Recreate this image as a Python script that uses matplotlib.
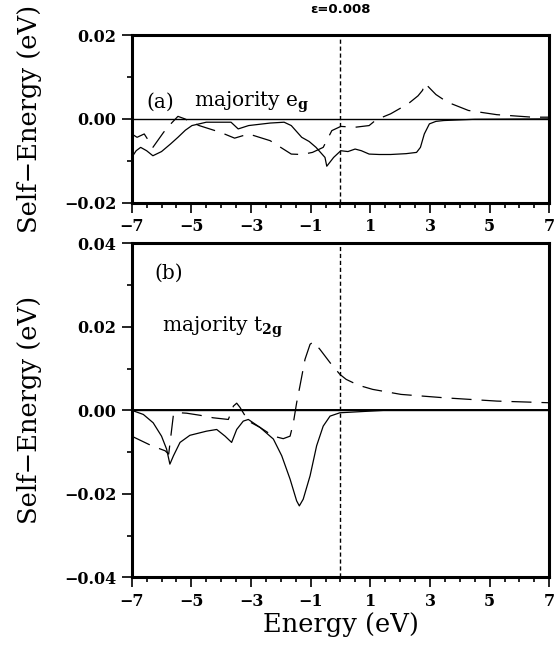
import matplotlib
matplotlib.use("Agg")
import matplotlib.pyplot as plt
from matplotlib.ticker import MultipleLocator, FixedLocator
import numpy as np

plt.rcParams['font.family'] = ['DejaVu Serif']
plt.rcParams['mathtext.fontset'] = 'dejavuserif'
plt.rcParams['axes.unicode_minus'] = True

# (a) majority e_g : solid and dashed self-energy curves
eg_solid_E = [-7.0, -6.85, -6.70, -6.50, -6.29, -6.0, -5.70, -5.45, -5.20, -4.98,
              -4.50, -3.67, -3.43, -3.08, -2.36, -1.89, -1.65, -1.30, -1.05, -0.82,
              -0.52, -0.46, -0.23, 0.01, 0.25, 0.49, 0.70, 0.96, 1.30, 1.68, 2.20,
              2.55, 2.68, 2.81, 2.98, 3.20, 3.46, 4.5, 7.0]
eg_solid_v = [-0.0092, -0.0076, -0.0068, -0.0076, -0.0088, -0.0078, -0.0060, -0.0044,
              -0.0027, -0.0016, -0.0008, -0.0008, -0.0024, -0.0016, -0.0010, -0.0008,
              -0.0016, -0.0044, -0.0054, -0.0068, -0.0092, -0.0113, -0.0092, -0.0076,
              -0.0078, -0.0072, -0.0076, -0.0084, -0.0085, -0.0085, -0.0083, -0.0080,
              -0.0068, -0.0036, -0.0012, -0.0006, -0.0004, -0.0001, 0.0]
eg_dash_E = [-7.0, -6.82, -6.58, -6.29, -5.93, -5.69, -5.45, -5.22, -4.74, -4.03,
             -3.55, -3.08, -2.36, -1.65, -1.30, -0.94, -0.58, -0.29, 0.01, 0.49,
             0.96, 1.20, 1.68, 2.27, 2.60, 2.75, 2.83, 2.98, 3.20, 3.58, 4.29, 5.24,
             6.43, 7.0]
eg_dash_v = [-0.0036, -0.0044, -0.0036, -0.0068, -0.0032, -0.0012, 0.0006, 0.0,
             -0.0016, -0.0032, -0.0046, -0.0036, -0.0052, -0.0084, -0.0085, -0.0080,
             -0.0068, -0.0028, -0.0018, -0.0020, -0.0016, -0.0002, 0.0012, 0.0036,
             0.0055, 0.0068, 0.0085, 0.0074, 0.0058, 0.0040, 0.0020, 0.0010, 0.0004,
             0.0004]

# (b) majority t_2g
t2g_solid_E = [-7.0, -6.61, -6.28, -6.0, -5.83, -5.72, -5.60, -5.38, -5.05, -4.49,
               -4.15, -3.87, -3.65, -3.48, -3.26, -3.09, -2.70, -2.25, -1.97, -1.69,
               -1.47, -1.38, -1.25, -1.02, -0.80, -0.58, -0.35, -0.02, 1.0, 1.5, 7.0]
t2g_solid_v = [0.0, -0.0010, -0.0030, -0.0062, -0.0093, -0.0129, -0.0109, -0.0077,
               -0.0060, -0.0050, -0.0046, -0.0062, -0.0077, -0.0046, -0.0026, -0.0022,
               -0.0041, -0.0069, -0.0109, -0.0165, -0.0217, -0.0229, -0.0213, -0.0157,
               -0.0085, -0.0038, -0.0014, -0.0006, -0.0002, 0.0, 0.0]
t2g_dash_E = [-7.0, -6.33, -5.88, -5.76, -5.60, -5.38, -5.16, -4.71, -4.27, -3.76,
              -3.59, -3.48, -3.37, -3.09, -2.70, -2.25, -1.92, -1.69, -1.58, -1.47,
              -1.36, -1.19, -1.02, -0.91, -0.69, -0.35, -0.02, 0.19, 0.60, 1.08, 2.03,
              3.46, 5.24, 7.0]
t2g_dash_v = [-0.0062, -0.0085, -0.0097, -0.0105, -0.0010, -0.0006, -0.0007, -0.0012,
              -0.0018, -0.0022, 0.0010, 0.0017, 0.0007, -0.0026, -0.0041, -0.0062,
              -0.0068, -0.0062, -0.0030, 0.0018, 0.0058, 0.0122, 0.0158, 0.0164,
              0.0146, 0.0114, 0.0086, 0.0074, 0.0060, 0.0050, 0.0038, 0.0030, 0.0022,
              0.0018]

xticks = [-7, -5, -3, -1, 1, 3, 5, 7]

fig = plt.figure(figsize=(5.55, 6.52), dpi=100)
ax1 = fig.add_axes([0.2373, 0.6891, 0.7524, 0.2572])
ax2 = fig.add_axes([0.2373, 0.1146, 0.7524, 0.5123])

dash = (0, (16, 8))


def style(ax, ylim, major, minor):
    ax.set_xlim(-7, 7)
    ax.set_ylim(*ylim)
    ax.xaxis.set_major_locator(FixedLocator(xticks))
    ax.xaxis.set_minor_locator(MultipleLocator(0.5))
    ax.yaxis.set_major_locator(MultipleLocator(major))
    ax.yaxis.set_minor_locator(MultipleLocator(minor))
    ax.set_xticklabels([f"{t}".replace("-", "\u2212") for t in xticks])
    ax.yaxis.set_major_formatter(
        matplotlib.ticker.FuncFormatter(lambda v, p: f"{v:.2f}".replace("-", "\u2212")
                                        if abs(v) > 1e-9 else "0.00"))
    for s in ax.spines.values():
        s.set_linewidth(2.2)
    ax.tick_params(which='major', direction='out', length=7, width=1.2,
                   labelsize=11.5, pad=4, top=False, right=False)
    ax.tick_params(which='minor', direction='out', length=3.5, width=1.2,
                   top=False, right=False)
    for lab in ax.get_xticklabels() + ax.get_yticklabels():
        lab.set_fontweight('bold')
    ax.axhline(0, color='black', lw=1.0, zorder=1)
    ax.axvline(0, color='black', lw=1.0, linestyle=(0, (3, 2)), zorder=1)
    ax.set_ylabel("Self\u2212Energy (eV)", fontsize=18.5, labelpad=16)


style(ax1, (-0.02, 0.02), 0.02, 0.01)
style(ax2, (-0.04, 0.04), 0.02, 0.01)

ax1.plot(eg_solid_E, eg_solid_v, color='black', lw=0.9)
ax1.plot(eg_dash_E, eg_dash_v, color='black', lw=0.9, linestyle=dash)
ax2.plot(t2g_solid_E, t2g_solid_v, color='black', lw=0.9)
ax2.plot(t2g_dash_E, t2g_dash_v, color='black', lw=0.9, linestyle=dash)
ax2.axhline(0, color='black', lw=1.4, zorder=1)

ax1.text(0.035, 0.60, "(a)", transform=ax1.transAxes, fontsize=14.5, va='center')
ax1.text(0.15, 0.60, r"majority e$_{\mathbf{g}}$", transform=ax1.transAxes,
         fontsize=14.5, va='center')
ax2.text(0.055, 0.91, "(b)", transform=ax2.transAxes, fontsize=14.5, va='center')
ax2.text(0.072, 0.75, r"majority t$_{\mathbf{2g}}$", transform=ax2.transAxes,
         fontsize=14.5, va='center')

ax1.set_title("\u03b5=0.008", fontsize=9.5, fontweight='bold', family='DejaVu Sans',
              pad=16)
ax2.set_xlabel("Energy (eV)", fontsize=18.5, labelpad=2)

fig.savefig("out.png", dpi=100)
